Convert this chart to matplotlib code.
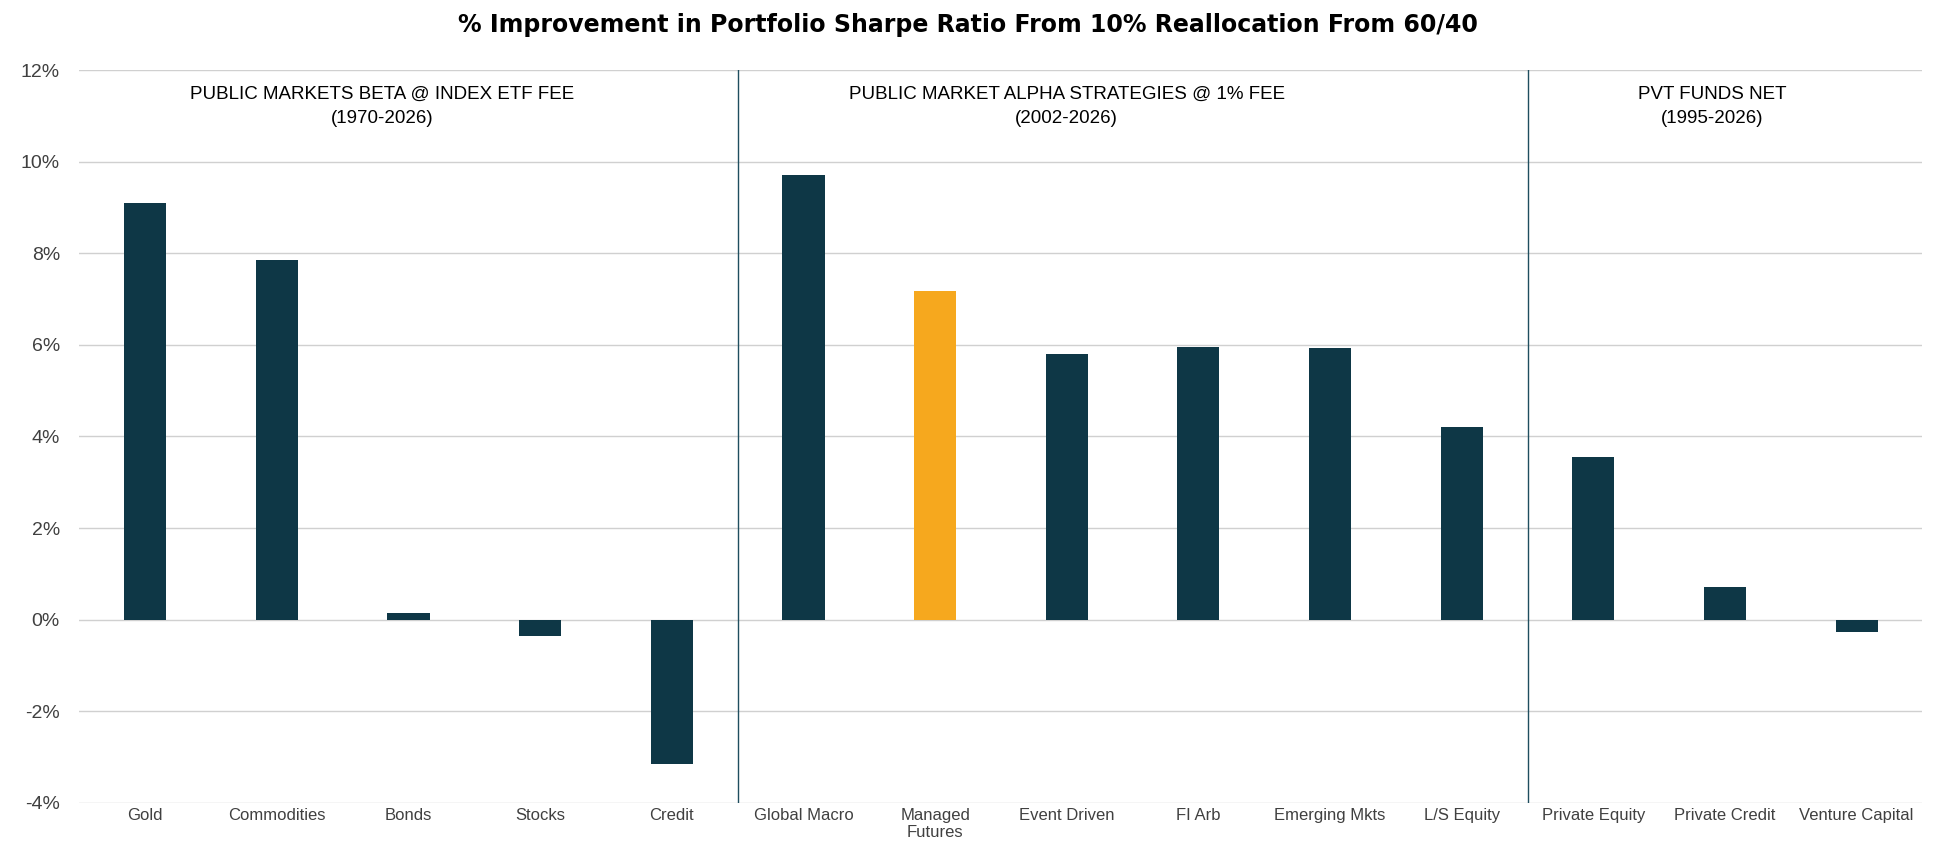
import matplotlib.pyplot as plt
from matplotlib.ticker import FuncFormatter

categories = ["Gold", "Commodities", "Bonds", "Stocks", "Credit",
              "Global Macro", "Managed\nFutures", "Event Driven", "FI Arb",
              "Emerging Mkts", "L/S Equity", "Private Equity", "Private Credit",
              "Venture Capital"]
values = [9.1, 7.85, 0.15, -0.35, -3.15, 9.72, 7.18, 5.8, 5.95, 5.93, 4.2,
          3.55, 0.72, -0.28]
highlight = "Managed\nFutures"
group_labels = ["PUBLIC MARKETS BETA @ INDEX ETF FEE\n(1970-2026)",
                "PUBLIC MARKET ALPHA STRATEGIES @ 1% FEE\n(2002-2026)",
                "PVT FUNDS NET\n(1995-2026)"]
group_centers = [1.8, 7.0, 11.9]
dividers = [4.5, 10.5]

DARK = "#0E3746"
ORANGE = "#F6A81E"

plt.rcParams["font.family"] = ["Liberation Sans", "DejaVu Sans"]
fig = plt.figure(figsize=(19.36, 8.66), dpi=100)
ax = fig.add_axes([0.041, 0.073, 0.952, 0.846])

x = list(range(len(categories)))
colors = [ORANGE if c == highlight else DARK for c in categories]
ax.bar(x, values, width=0.32, color=colors, zorder=3)

ax.set_ylim(-4, 12)
ax.set_xlim(-0.5, len(categories) - 0.5)
ax.set_yticks(range(-4, 13, 2))
ax.yaxis.set_major_formatter(FuncFormatter(lambda v, p: f"{v:.0f}%"))
ax.grid(axis="y", color="#D0D0D0", linewidth=1, zorder=0)
for s in ax.spines.values():
    s.set_visible(False)
ax.tick_params(length=0, labelsize=12, colors="#404040")
ax.tick_params(axis="y", labelsize=14, pad=14)
ax.set_xticks(x)
ax.set_xticklabels(categories, va="top")

for d in dividers:
    ax.plot([d, d], [-4, 12], color="#1F4E5F", linewidth=1, zorder=4)
for lbl, cx in zip(group_labels, group_centers):
    ax.text(cx, 11.65, lbl, ha="center", va="top", fontsize=13.5,
            linespacing=1.5, color="black")

fig.suptitle("% Improvement in Portfolio Sharpe Ratio From 10% Reallocation From 60/40",
             fontsize=17, fontweight="bold", family="DejaVu Sans", y=0.985)
fig.savefig("out.png", dpi=100)
